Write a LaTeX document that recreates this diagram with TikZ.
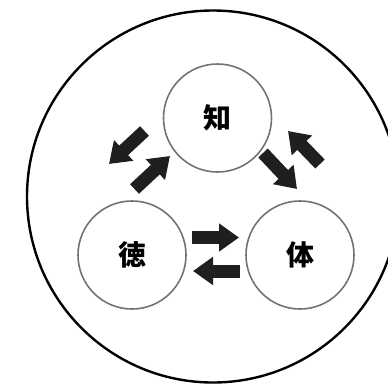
\documentclass[tikz,border=0pt]{standalone}
\usepackage{fontspec}
\newfontfamily\cjk{Noto Sans CJK JP}
\usetikzlibrary{arrows.meta}
\tikzset{
  outer/.style={circle,draw=black,line width=2.4pt,minimum size=372pt,inner sep=0pt},
  orb/.style={circle,draw=black!55,line width=1.6pt,minimum size=108pt,inner sep=0pt,
              font=\cjk\bfseries\fontsize{28}{28}\selectfont},
  blk/.style={-{Triangle[width=27pt,length=20pt]},line width=13pt,black!88},
}
\begin{document}
\begin{tikzpicture}[x=1pt,y=-1pt]
  \useasboundingbox (0,0) rectangle (388,386);
  \begin{scope}
    \clip (0,0) rectangle (388,386);
    \node[outer] (world) at (213,196.5) {};
  \end{scope}
  % three circles
  \node[orb] (chi) at (217.5,118) {知};
  \node[orb] (toku) at (132,255) {徳};
  \node[orb] (tai) at (300,255) {体};
  % arrow ends
  \coordinate (a1) at (144.5,131); \coordinate (a2) at (109,164);
  \coordinate (b1) at (134.5,189); \coordinate (b2) at (170,156);
  \coordinate (c1) at (263,153); \coordinate (c2) at (297,189);
  \coordinate (d1) at (320,164); \coordinate (d2) at (288,131);
  \coordinate (e1) at (192,237.5); \coordinate (e2) at (239,237.5);
  \coordinate (f1) at (240,271); \coordinate (f2) at (193,271);
  \draw[blk] (a1) -- (a2);
  \draw[blk] (b1) -- (b2);
  \draw[blk] (c1) -- (c2);
  \draw[blk] (d1) -- (d2);
  \draw[blk] (e1) -- (e2);
  \draw[blk] (f1) -- (f2);
\end{tikzpicture}
\end{document}
